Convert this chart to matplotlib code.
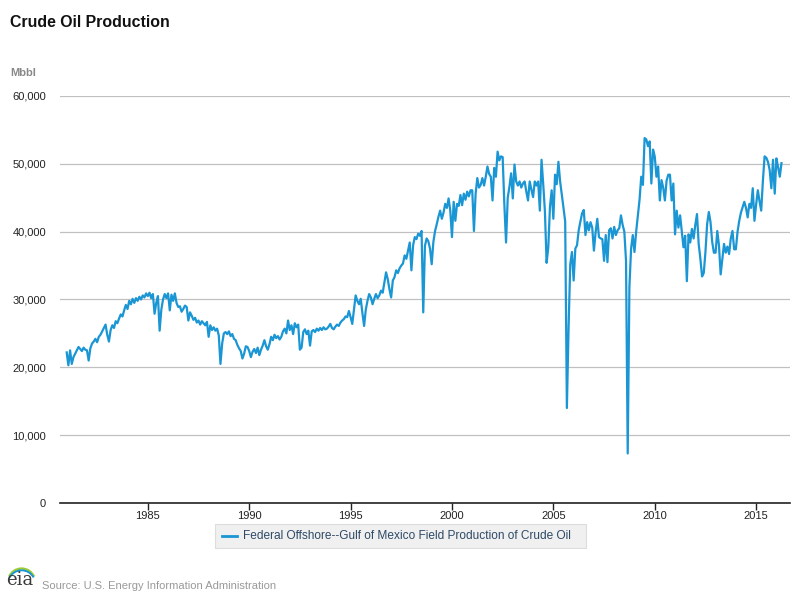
import matplotlib.pyplot as plt
import numpy as np
from matplotlib.patches import Arc, FancyBboxPatch
from matplotlib.lines import Line2D

plt.rcParams['font.family'] = ['Liberation Sans', 'DejaVu Sans']

# Monthly Gulf of Mexico federal offshore crude oil production (Mbbl), Jan 1981 - Apr 2016
start_year = 1981
production = [
    22200, 20300, 22500, 20500, 21500, 22000, 22500, 23000, 22700, 22400, 22900, 22600,  # 1981
    22500, 21000, 22800, 23500, 23800, 24200, 23700, 24500, 24800, 25300, 25800, 26300,  # 1982
    24800, 23800, 25500, 26200, 25800, 26800, 26500, 27200, 27800, 27500, 28400, 29200,  # 1983
    28600, 29800, 29300, 30100, 29500, 30200, 29800, 30400, 30000, 30600, 30300, 30900,  # 1984
    30500, 31000, 30200, 30800, 27900, 29500, 30500, 25400, 28500, 30000, 30800, 30200,  # 1985
    30900, 28400, 30700, 29800, 30900, 29500, 28900, 29000, 28200, 28600, 29100, 28900,  # 1986
    26900, 28100, 27600, 27000, 27300, 26600, 26900, 26300, 26800, 26500, 26200, 26700,  # 1987
    24500, 26200, 25500, 25900, 25400, 25700, 24700, 20500, 23500, 25000, 25200, 24900,  # 1988
    25300, 24600, 24900, 24200, 24000, 23300, 22800, 22400, 21300, 22000, 23100, 23000,  # 1989
    22400, 21500, 22300, 22700, 22100, 22900, 21800, 22600, 23200, 24000, 23100, 22600,  # 1990
    23400, 24500, 24000, 24800, 24300, 24600, 24100, 24500, 25300, 25700, 25000, 26900,  # 1991
    25500, 26200, 24900, 26500, 25900, 26300, 22600, 22900, 25200, 25600, 24900, 25400,  # 1992
    23200, 25300, 25500, 25200, 25700, 25400, 25800, 25500, 25900, 25600, 25700, 26000,  # 1993
    26400, 25800, 25600, 26000, 26300, 26100, 26600, 26900, 27100, 27500, 27400, 28300,  # 1994
    27400, 26400, 28500, 30600, 29800, 29300, 30100, 28000, 26100, 28500, 29800, 30800,  # 1995
    30300, 29300, 30100, 30800, 30200, 30600, 31300, 31000, 32500, 34000, 33000, 31500,  # 1996
    30300, 32800, 33300, 34300, 33900, 34600, 35000, 35300, 36500, 36000, 37200, 38400,  # 1997
    34300, 38000, 39200, 38900, 39700, 39400, 40100, 28100, 37900, 39000, 38600, 37500,  # 1998
    35200, 38500, 40100, 41100, 42200, 43100, 41900, 42800, 44100, 43500, 44900, 43100,  # 1999
    39200, 44400, 41600, 44100, 43800, 45400, 43900, 45600, 44700, 45900, 45200, 46100,  # 2000
    46100, 40100, 45600, 47900, 46500, 46900, 47900, 46800, 48100, 49600, 48500, 48100,  # 2001
    44600, 49400, 48100, 51800, 50500, 51100, 51000, 44000, 38400, 45000, 46600, 48600,  # 2002
    44900, 49900, 47400, 46800, 47400, 46500, 47100, 47400, 45900, 44600, 47400, 46200,  # 2003
    45100, 47400, 46800, 47400, 43100, 50600, 47000, 43000, 35400, 37700, 43700, 46100,  # 2004
    41900, 48400, 47000, 50300, 47400, 45500, 43500, 41500, 14000, 25800, 35200, 37000,  # 2005
    32800, 37500, 38000, 40200, 41500, 42700, 43200, 39500, 41400, 40200, 41400, 40600,  # 2006
    37200, 39900, 41900, 39200, 39000, 38900, 35700, 39500, 35500, 40200, 40500, 39000,  # 2007
    40700, 39500, 40200, 40500, 42400, 41000, 40000, 35700, 7300, 31800, 37500, 39500,   # 2008
    37000, 40000, 42400, 44700, 48100, 46900, 53800, 53600, 52600, 53300, 47100, 52100,  # 2009
    51100, 48100, 49600, 44600, 47600, 46500, 44600, 47500, 48400, 48400, 44600, 47100,  # 2010
    39600, 43100, 40600, 42400, 40000, 37700, 39400, 32700, 39600, 38400, 40400, 39000,  # 2011
    41000, 42600, 38200, 36000, 33400, 33900, 37000, 41100, 42900, 41400, 38500, 36900,  # 2012
    36900, 40100, 38000, 33700, 36000, 38200, 36900, 37800, 36700, 39000, 40100, 37400,  # 2013
    37400, 40000, 41600, 42800, 43600, 44400, 43500, 42100, 44100, 43500, 46400, 41600,  # 2014
    44000, 46100, 44500, 43100, 47500, 51100, 50900, 50300, 49100, 46400, 50600, 45600,  # 2015
    50800, 49500, 48100, 50100,                                                          # 2016
]
year_ticks = [1985, 1990, 1995, 2000, 2005, 2010, 2015]
value_ticks = [0, 10000, 20000, 30000, 40000, 50000, 60000]
series_label = 'Federal Offshore--Gulf of Mexico Field Production of Crude Oil'
line_color = '#1a96d4'

years = start_year + np.arange(len(production)) / 12.0

fig = plt.figure(figsize=(8, 6), dpi=100)
fig.patch.set_facecolor('white')
ax = fig.add_axes([0.075, 0.1617, 0.9125, 0.6783])

ax.plot(years, production, color=line_color, linewidth=1.6, solid_joinstyle='round', zorder=3)

ax.set_xlim(1980.67, 2016.67)
ax.set_ylim(0, 60000)
ax.set_xticks(year_ticks)
ax.set_xticklabels([str(y) for y in year_ticks], fontsize=8, color='#222222')
ax.set_yticks(value_ticks)
ax.set_yticklabels([f'{v:,}' for v in value_ticks], fontsize=8, color='#222222')
ax.yaxis.grid(True, color='#c0c0c0', linewidth=0.9)
ax.set_axisbelow(True)
for side in ['top', 'right', 'left']:
    ax.spines[side].set_visible(False)
ax.spines['bottom'].set_color('#222222')
ax.spines['bottom'].set_linewidth(1.2)
ax.spines['bottom'].set_zorder(4)
ax.tick_params(axis='x', length=5, width=1, color='#222222', pad=1, direction='out')
ax.tick_params(axis='y', length=0, pad=10)

# Title, unit label
fig.text(0.0125, 0.963, 'Crude Oil Production', fontsize=11.4, fontweight='bold',
         color='#111111', ha='left', va='center')
fig.text(0.0125, 0.878, 'Mbbl', fontsize=8, fontweight='bold', color='#888888',
         ha='left', va='center')

# Legend box
box = FancyBboxPatch((0.269, 0.087), 0.463, 0.04, boxstyle='square,pad=0',
                     transform=fig.transFigure, facecolor='#f0f0f0',
                     edgecolor='#dddddd', linewidth=0.8)
fig.patches.append(box)
fig.lines.append(Line2D([0.278, 0.296], [0.107, 0.107], transform=fig.transFigure,
                        color=line_color, linewidth=2.0))
fig.text(0.304, 0.107, series_label, fontsize=8.6, color='#2e4a66',
         ha='left', va='center')

# Source line with a simple eia mark
fig.text(0.008, 0.018, 'eia', fontsize=13, family='DejaVu Serif', color='#3a3a3a',
         ha='left', va='bottom')
fig.patches.append(Arc((0.027, 0.030), 0.034, 0.045, theta1=30, theta2=150,
                       transform=fig.transFigure, color='#9acd32', linewidth=1.6))
fig.patches.append(Arc((0.027, 0.027), 0.034, 0.045, theta1=35, theta2=145,
                       transform=fig.transFigure, color='#1a96d4', linewidth=1.4))
fig.text(0.053, 0.0233, 'Source: U.S. Energy Information Administration', fontsize=8,
         color='#999999', ha='left', va='center')

fig.savefig('out.png', dpi=100, facecolor='white')
